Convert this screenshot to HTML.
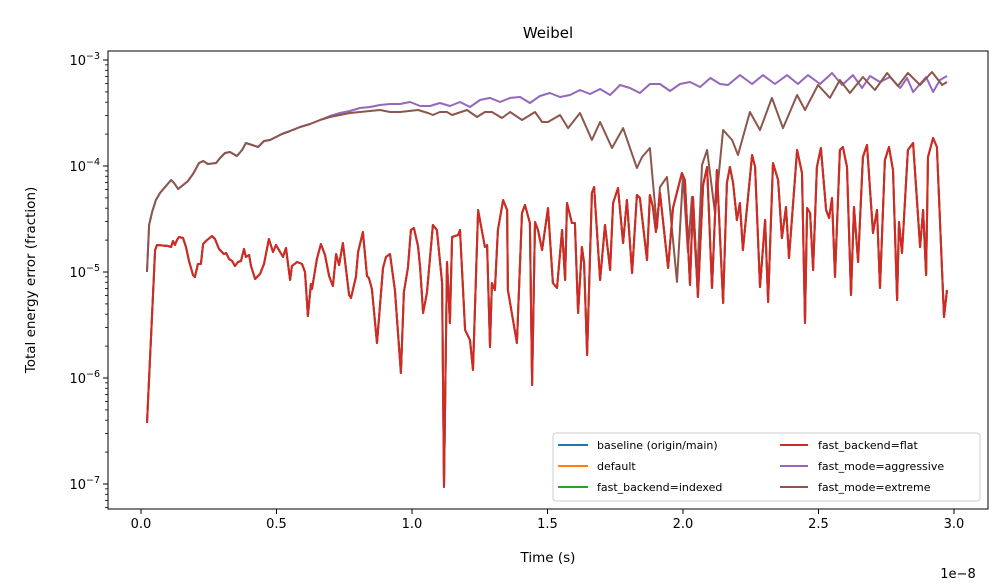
<!DOCTYPE html>
<html><head><meta charset="utf-8"><style>
body{margin:0;background:#fff;}
svg{display:block;font-family:"DejaVu Sans","Liberation Sans",sans-serif;}
</style></head><body>
<svg id="chart" width="1008" height="588" viewBox="0 0 1008 588">
<rect width="1008" height="588" fill="#fff"/>
<text x="548" y="38" font-size="15" text-anchor="middle">Weibel</text>
<text x="548" y="562" font-size="13.5" text-anchor="middle">Time (s)</text>
<text x="958" y="578" font-size="13" text-anchor="middle">1e−8</text>
<text transform="translate(35,280) rotate(-90)" font-size="13.5" text-anchor="middle">Total energy error (fraction)</text>
<g id="plot"></g>
<g id="axes"></g>
<g id="legend">
<rect x="553" y="433" width="427" height="68" rx="3" fill="#fff" fill-opacity="0.8" stroke="#ccc"/>
<g><line x1="558" y1="445" x2="588" y2="445" stroke="#1f77b4" stroke-width="2"/><text x="597" y="449" font-size="11">baseline (origin/main)</text></g>
<g><line x1="558" y1="466" x2="588" y2="466" stroke="#ff7f0e" stroke-width="2"/><text x="597" y="470" font-size="11">default</text></g>
<g><line x1="558" y1="487" x2="588" y2="487" stroke="#2ca02c" stroke-width="2"/><text x="597" y="491" font-size="11">fast_backend=indexed</text></g>
<g><line x1="780" y1="445" x2="808" y2="445" stroke="#d62728" stroke-width="2"/><text x="818" y="449" font-size="11">fast_backend=flat</text></g>
<g><line x1="780" y1="466" x2="808" y2="466" stroke="#9467bd" stroke-width="2"/><text x="818" y="470" font-size="11">fast_mode=aggressive</text></g>
<g><line x1="780" y1="487" x2="808" y2="487" stroke="#8c564b" stroke-width="2"/><text x="818" y="491" font-size="11">fast_mode=extreme</text></g>
</g>
</svg>
<script>
// time in units of 1e-8 s; error as log10(fraction)
const flatTime=[.022,.052,.059,.100,.111,.118,.125,.133,.140,.155,.166,.177,.192,.199,.210,.221,.229,.244,.262,.273,.288,.306,.314,.325,.336,.347,.358,.369,.380,.387,.399,.406,.421,.439,.454,.472,.487,.498,.524,.535,.542,.550,.557,.576,.594,.605,.616,.627,.631,.649,.664,.679,.694,.708,.720,.731,.745,.768,.775,.793,.801,.819,.834,.841,.852,.871,.893,.904,.919,.937,.959,.970,.985,.996,1.007,1.022,1.030,1.041,1.055,1.077,1.092,1.111,1.118,1.129,1.140,1.148,1.170,1.177,1.196,1.214,1.225,1.244,1.269,1.277,1.288,1.295,1.306,1.317,1.336,1.351,1.354,1.387,1.406,1.417,1.435,1.443,1.454,1.465,1.480,1.502,1.520,1.535,1.554,1.565,1.572,1.590,1.601,1.613,1.627,1.635,1.646,1.664,1.672,1.694,1.712,1.731,1.742,1.760,1.779,1.793,1.812,1.830,1.841,1.867,1.878,1.889,1.900,1.915,1.945,1.963,1.996,2.007,2.026,2.037,2.055,2.074,2.089,2.107,2.125,2.148,2.162,2.173,2.185,2.199,2.210,2.221,2.255,2.266,2.284,2.303,2.314,2.332,2.351,2.365,2.380,2.391,2.421,2.439,2.450,2.458,2.469,2.480,2.494,2.509,2.528,2.539,2.550,2.561,2.579,2.590,2.605,2.620,2.631,2.646,2.664,2.679,2.701,2.716,2.727,2.745,2.760,2.775,2.790,2.797,2.808,2.830,2.849,2.875,2.886,2.897,2.904,2.923,2.937,2.963,2.974];
const flatLogErr=[-6.425,-4.792,-4.745,-4.755,-4.764,-4.708,-4.745,-4.698,-4.670,-4.679,-4.764,-4.896,-5.028,-5.047,-4.925,-4.925,-4.736,-4.698,-4.660,-4.689,-4.783,-4.830,-4.821,-4.877,-4.896,-4.943,-4.906,-4.896,-4.783,-4.858,-4.840,-4.943,-5.066,-5.019,-4.925,-4.689,-4.811,-4.745,-4.858,-4.774,-4.915,-5.075,-4.943,-4.906,-4.925,-5.000,-5.415,-5.113,-5.160,-4.877,-4.736,-4.840,-5.038,-5.132,-4.830,-4.934,-4.726,-5.217,-5.245,-5.047,-4.811,-4.623,-5.038,-5.057,-5.160,-5.670,-4.962,-4.858,-4.830,-5.170,-5.953,-5.189,-4.962,-4.604,-4.585,-4.755,-4.953,-5.387,-5.198,-4.557,-4.604,-5.104,-7.028,-4.906,-5.481,-4.670,-4.651,-4.604,-5.547,-5.642,-5.925,-4.415,-4.764,-4.745,-5.708,-5.104,-5.170,-4.604,-4.321,-4.415,-5.170,-5.670,-4.443,-4.368,-4.538,-6.066,-4.528,-4.604,-4.792,-4.396,-5.104,-5.151,-4.604,-5.075,-4.349,-4.538,-4.538,-5.387,-4.764,-4.915,-5.783,-4.255,-4.198,-5.075,-4.557,-4.981,-4.349,-4.208,-4.726,-4.321,-5.009,-4.274,-4.302,-4.887,-4.274,-4.387,-4.623,-4.255,-4.962,-4.396,-4.066,-4.132,-5.123,-4.292,-5.236,-4.179,-4.009,-5.151,-4.038,-5.292,-4.160,-4.009,-4.160,-4.509,-4.349,-4.792,-3.896,-4.009,-5.142,-4.509,-5.283,-3.972,-4.132,-4.679,-4.387,-4.868,-3.849,-4.066,-5.481,-4.396,-4.443,-4.981,-4.009,-3.830,-4.415,-4.491,-4.302,-5.047,-3.849,-3.821,-4.009,-5.217,-4.387,-4.906,-3.915,-3.802,-4.632,-4.415,-5.151,-3.943,-3.821,-4.038,-5.264,-4.528,-4.821,-3.849,-3.783,-4.764,-4.415,-5.028,-3.915,-3.736,-3.821,-5.425,-5.170];
const aggrTime=[.022,.030,.041,.055,.070,.089,.111,.122,.137,.151,.173,.192,.214,.229,.247,.277,.292,.310,.328,.354,.373,.387,.410,.432,.454,.476,.498,.520,.550,.587,.624,.661,.697,.734,.771,.808,.845,.882,.919,.956,.993,1.030,1.066,1.103,1.140,1.177,1.214,1.251,1.288,1.325,1.362,1.399,1.435,1.472,1.509,1.546,1.583,1.620,1.657,1.694,1.731,1.768,1.804,1.841,1.878,1.915,1.952,1.989,2.026,2.063,2.101,2.137,2.166,2.210,2.255,2.295,2.339,2.384,2.424,2.461,2.506,2.550,2.587,2.627,2.661,2.690,2.727,2.764,2.801,2.827,2.849,2.875,2.897,2.923,2.948,2.974];
const aggrLogErr=[-5.0,-4.557,-4.434,-4.321,-4.255,-4.198,-4.132,-4.160,-4.217,-4.189,-4.142,-4.075,-3.972,-3.953,-3.981,-3.972,-3.925,-3.877,-3.868,-3.906,-3.849,-3.783,-3.802,-3.821,-3.764,-3.755,-3.726,-3.698,-3.670,-3.632,-3.604,-3.566,-3.528,-3.500,-3.481,-3.453,-3.443,-3.425,-3.415,-3.415,-3.396,-3.434,-3.434,-3.406,-3.434,-3.396,-3.443,-3.377,-3.358,-3.396,-3.358,-3.349,-3.406,-3.340,-3.311,-3.349,-3.330,-3.283,-3.321,-3.274,-3.330,-3.236,-3.264,-3.311,-3.226,-3.226,-3.292,-3.226,-3.208,-3.255,-3.170,-3.226,-3.236,-3.142,-3.226,-3.142,-3.226,-3.142,-3.226,-3.142,-3.226,-3.123,-3.236,-3.142,-3.264,-3.151,-3.208,-3.160,-3.264,-3.170,-3.302,-3.226,-3.160,-3.302,-3.189,-3.151];
const extrTime=[.022,.030,.041,.055,.070,.089,.111,.122,.137,.151,.173,.192,.214,.229,.247,.277,.292,.310,.328,.354,.373,.387,.410,.432,.454,.476,.498,.520,.550,.587,.624,.661,.697,.734,.771,.808,.845,.882,.919,.956,1.022,1.059,1.077,1.103,1.129,1.148,1.203,1.240,1.269,1.295,1.332,1.362,1.406,1.454,1.480,1.502,1.546,1.576,1.620,1.664,1.694,1.738,1.779,1.830,1.849,1.878,1.904,1.915,1.941,1.978,2.000,2.018,2.033,2.052,2.070,2.089,2.118,2.148,2.181,2.203,2.247,2.284,2.328,2.369,2.421,2.450,2.498,2.542,2.579,2.616,2.664,2.708,2.753,2.793,2.830,2.875,2.919,2.956,2.974];
const extrLogErr=[-5.0,-4.557,-4.434,-4.321,-4.255,-4.198,-4.132,-4.160,-4.217,-4.189,-4.142,-4.075,-3.972,-3.953,-3.981,-3.972,-3.925,-3.877,-3.868,-3.906,-3.849,-3.783,-3.802,-3.821,-3.764,-3.755,-3.726,-3.698,-3.670,-3.632,-3.604,-3.566,-3.538,-3.519,-3.500,-3.491,-3.481,-3.472,-3.491,-3.491,-3.472,-3.500,-3.519,-3.491,-3.491,-3.519,-3.472,-3.538,-3.491,-3.491,-3.547,-3.491,-3.566,-3.491,-3.585,-3.585,-3.519,-3.642,-3.500,-3.755,-3.585,-3.830,-3.642,-4.019,-3.915,-3.830,-4.585,-4.198,-4.104,-5.094,-4.085,-4.811,-4.292,-5.075,-3.991,-3.849,-4.443,-3.660,-3.755,-3.896,-3.491,-3.660,-3.358,-3.642,-3.330,-3.472,-3.236,-3.358,-3.189,-3.311,-3.160,-3.283,-3.123,-3.245,-3.123,-3.236,-3.113,-3.236,-3.208];
const xTicks=[0,0.5,1.0,1.5,2.0,2.5,3.0];
const xTickLabels=["0.0","0.5","1.0","1.5","2.0","2.5","3.0"];
const yTicks=[-3,-4,-5,-6,-7];
const yTickLabels=["−3","−4","−5","−6","−7"];

const L=108,R=988,T=51,B=509;
const X=t=>141+t*271;
const Y=l=>60+(-3-l)*106;
const NS="http://www.w3.org/2000/svg";
const plot=document.getElementById('plot'), axes=document.getElementById('axes');
function mk(tag,attrs,parent){const e=document.createElementNS(NS,tag);for(const k in attrs)e.setAttribute(k,attrs[k]);parent.appendChild(e);return e;}
function series(ts,ls,color,name){
  const d=ts.map((t,i)=>(i?'L':'M')+X(t).toFixed(1)+','+Y(ls[i]).toFixed(1)).join('');
  const p=mk('path',{d:d,fill:'none',stroke:color,'stroke-width':2,'stroke-linejoin':'round'},plot);
  
  
}
series(flatTime,flatLogErr,'#1f77b4','line-baseline');
series(flatTime,flatLogErr,'#ff7f0e','line-default');
series(flatTime,flatLogErr,'#2ca02c','line-fast-backend-indexed');
series(aggrTime,aggrLogErr,'#9467bd','line-fast-mode-aggressive');
series(extrTime,extrLogErr,'#8c564b','line-fast-mode-extreme');
series(flatTime,flatLogErr,'#d62728','line-fast-backend-flat');

mk('rect',{x:L,y:T,width:R-L,height:B-T,fill:'none',stroke:'#000','stroke-width':1},axes);
xTicks.forEach((t,i)=>{
  mk('line',{x1:X(t),y1:B,x2:X(t),y2:B+5,stroke:'#000'},axes);
  const tx=mk('text',{x:X(t),y:B+19,'font-size':13,'text-anchor':'middle'},axes);
  tx.textContent=xTickLabels[i];
  
  
});
yTicks.forEach((l,i)=>{
  mk('line',{x1:L-5,y1:Y(l),x2:L,y2:Y(l),stroke:'#000'},axes);
  const tx=mk('text',{x:L-8,y:Y(l)+5,'font-size':13,'text-anchor':'end'},axes);
  
  
  const a=mk('tspan',{},tx);a.textContent='10';
  const b=mk('tspan',{dy:-6,'font-size':9.5},tx);b.textContent=yTickLabels[i];
});
for(let d=-8;d<=-3;d++){for(let m=2;m<=9;m++){const l=d+Math.log10(m);const y=Y(l);if(y>T&&y<B)mk('line',{x1:L-3,y1:y,x2:L,y2:y,stroke:'#000','stroke-width':0.8},axes);}}
</script>
</body></html>
